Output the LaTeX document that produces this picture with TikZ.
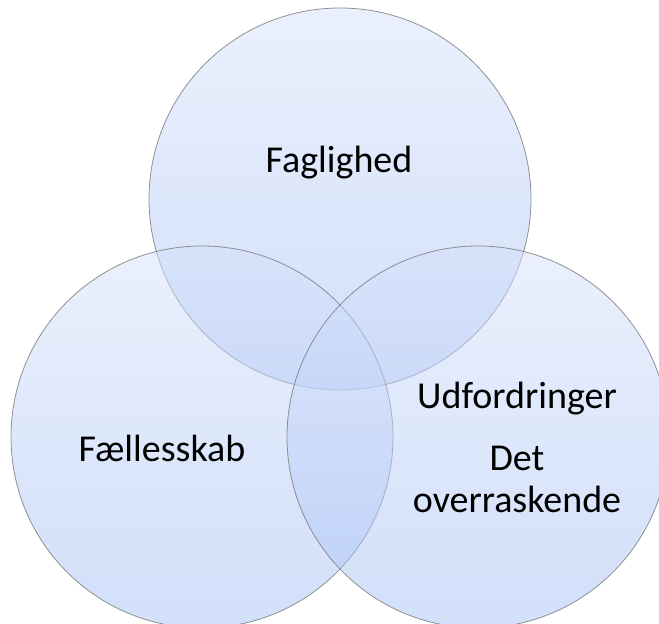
\documentclass[tikz,border=0pt]{standalone}
\usepackage{fontspec}
\setmainfont{Carlito}
\usetikzlibrary{positioning}
\definecolor{ringtop}{RGB}{213,225,251}
\definecolor{ringbot}{RGB}{165,192,245}
\definecolor{ringline}{RGB}{120,120,120}
\tikzset{
    x=1pt,
    y=-1pt,
    ring/.style = {
        draw=ringline,
        shape=circle,
        minimum size=382pt,
        inner sep=0pt,
        line width=0.8pt,
        top color=ringtop,
        bottom color=ringbot,
        fill opacity=0.5,
        draw opacity=0.8
    },
    caption/.style = {
        font=\fontsize{38}{42}\selectfont,
        align=center,
        anchor=base,
        inner sep=0pt
    },
}
\begin{document}
\begin{tikzpicture}
                \clip (0,0) rectangle (659,624);
                \node[ring] (fag) at (340,199) {};
                \node[ring] (faelles) at (202,437) {};
                \node[ring] (udf) at (478,437) {};

                \node[caption] (fagtext) at (339,172) {Faglighed};
                \node[caption] (faellestext) at (162,461) {Fællesskab};
                \node[caption] (udftext) at (517,408) {Udfordringer};
                % base anchor sits on the last line here
                \node[caption] (dettext) at (517,512) {Det\\overraskende};
\end{tikzpicture}
\end{document}
